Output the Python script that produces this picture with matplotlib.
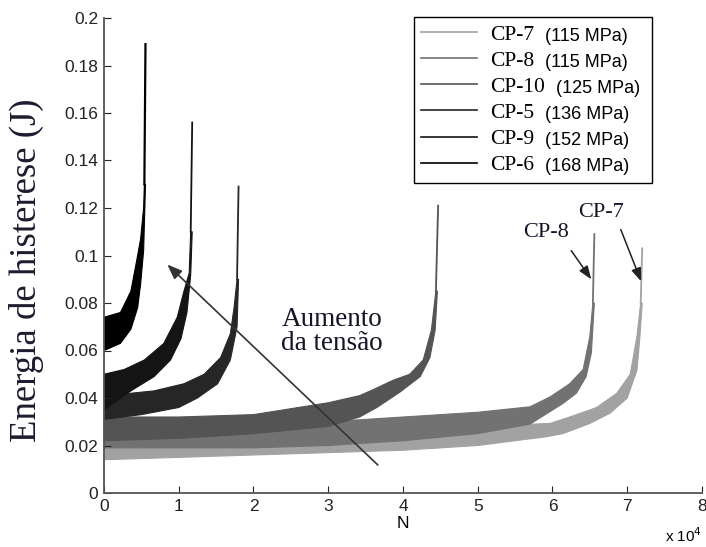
import matplotlib
matplotlib.use('Agg')
import matplotlib.pyplot as plt

# N in units of 10^4 cycles, energy in J
# each test is a noisy band: upper edge (up) and lower edge (lo), then the rupture spike
names = ['CP-7', 'CP-8', 'CP-10', 'CP-5', 'CP-9', 'CP-6']
stress = ['(115 MPa)', '(115 MPa)', '(125 MPa)', '(136 MPa)', '(152 MPa)', '(168 MPa)']
colors = ['#a2a2a2', '#727272', '#545454', '#262626', '#141414', '#000000']

up_n_cp7 = [0, 1, 2, 3, 4, 5, 5.97, 6.23, 6.59, 6.86, 7.04, 7.13, 7.18]
up_e_cp7 = [0.025, 0.025, 0.025, 0.026, 0.027, 0.028, 0.0293, 0.032, 0.036, 0.042, 0.050, 0.066, 0.080]
lo_n_cp7 = [0, 1, 2, 3, 4, 5, 5.92, 6.14, 6.50, 6.77, 7.00, 7.13, 7.17, 7.20]
lo_e_cp7 = [0.014, 0.015, 0.016, 0.017, 0.018, 0.020, 0.0237, 0.025, 0.0293, 0.0336, 0.040, 0.0517, 0.066, 0.080]

up_n_cp8 = [0, 1, 2, 3, 4, 5, 5.70, 5.97, 6.23, 6.41, 6.50, 6.54]
up_e_cp8 = [0.029, 0.029, 0.029, 0.030, 0.032, 0.034, 0.0363, 0.0405, 0.046, 0.052, 0.066, 0.080]
lo_n_cp8 = [0, 1, 2, 3, 4, 5, 5.70, 6.14, 6.32, 6.45, 6.52, 6.56]
lo_e_cp8 = [0.019, 0.019, 0.019, 0.020, 0.022, 0.025, 0.029, 0.0377, 0.042, 0.049, 0.059, 0.080]

up_n_cp10 = [0, 1, 2, 3, 3.42, 3.60, 3.87, 4.09, 4.27, 4.38, 4.44]
up_e_cp10 = [0.032, 0.032, 0.033, 0.038, 0.041, 0.0435, 0.0475, 0.050, 0.056, 0.0686, 0.085]
lo_n_cp10 = [0, 1, 2, 3, 3.42, 3.65, 3.96, 4.23, 4.36, 4.43, 4.46]
lo_e_cp10 = [0.022, 0.023, 0.025, 0.028, 0.032, 0.036, 0.0425, 0.049, 0.057, 0.0686, 0.085]

up_n_cp5 = [0, 0.36, 0.67, 1.07, 1.34, 1.56, 1.69, 1.74, 1.78]
up_e_cp5 = [0.042, 0.042, 0.043, 0.046, 0.050, 0.057, 0.067, 0.078, 0.090]
lo_n_cp5 = [0, 0.5, 1.0, 1.25, 1.52, 1.69, 1.78, 1.80]
lo_e_cp5 = [0.031, 0.033, 0.036, 0.040, 0.046, 0.056, 0.070, 0.090]

up_n_cp9 = [0, 0.27, 0.54, 0.80, 0.98, 1.07, 1.14, 1.16]
up_e_cp9 = [0.050, 0.052, 0.056, 0.063, 0.074, 0.085, 0.0926, 0.110]
lo_n_cp9 = [0, 0.36, 0.67, 0.89, 1.03, 1.11, 1.16, 1.18]
lo_e_cp9 = [0.035, 0.043, 0.049, 0.056, 0.065, 0.076, 0.092, 0.110]

up_n_cp6 = [0, 0.22, 0.36, 0.45, 0.49, 0.53, 0.54]
up_e_cp6 = [0.074, 0.076, 0.085, 0.100, 0.107, 0.120, 0.130]
lo_n_cp6 = [0, 0.22, 0.36, 0.45, 0.49, 0.53, 0.555]
lo_e_cp6 = [0.060, 0.063, 0.069, 0.078, 0.088, 0.102, 0.130]

# rupture spike: N at failure and peak energy
n_fail = [7.20, 6.56, 4.47, 1.80, 1.18, 0.555]
peak = [0.103, 0.109, 0.121, 0.129, 0.156, 0.189]

bands = [(up_n_cp7, up_e_cp7, lo_n_cp7, lo_e_cp7),
         (up_n_cp8, up_e_cp8, lo_n_cp8, lo_e_cp8),
         (up_n_cp10, up_e_cp10, lo_n_cp10, lo_e_cp10),
         (up_n_cp5, up_e_cp5, lo_n_cp5, lo_e_cp5),
         (up_n_cp9, up_e_cp9, lo_n_cp9, lo_e_cp9),
         (up_n_cp6, up_e_cp6, lo_n_cp6, lo_e_cp6)]

fig = plt.figure(figsize=(7.06, 5.47), dpi=100)
ax = fig.add_axes([104/706, 1-493/547, 598/706, 475/547])

handles = []
for k, (un, ue, ln, le) in enumerate(bands):
    ax.fill(un + ln[::-1], ue + le[::-1], facecolor=colors[k], edgecolor=colors[k], lw=0.8)
    ax.plot([un[-1], n_fail[k]], [ue[-1], peak[k]], color=colors[k], lw=1.6 if k == 5 else 1.3)
    h, = ax.plot([], [], color=colors[k], lw=1.2)
    handles.append(h)

ax.set_xlim(0, 8)
ax.set_ylim(0, 0.2)
ax.set_xticks(range(9))
ax.set_yticks([0, 0.02, 0.04, 0.06, 0.08, 0.1, 0.12, 0.14, 0.16, 0.18, 0.2])
ax.set_yticklabels(['0', '0.02', '0.04', '0.06', '0.08', '0.1', '0.12', '0.14', '0.16', '0.18', '0.2'])
ax.tick_params(direction='in', length=5, labelsize=12.5, pad=4, colors='#222222')
for lab in ax.get_xticklabels() + ax.get_yticklabels():
    lab.set_family('Liberation Sans')
ax.spines['top'].set_visible(False)
ax.spines['right'].set_visible(False)
for s in ['left', 'bottom']:
    ax.spines[s].set_color('#555555')
    ax.spines[s].set_linewidth(1.3)

ax.set_xlabel('N', family='Liberation Sans', fontsize=12.5, labelpad=2)
ax.set_ylabel('Energia de histerese (J)', family='Liberation Serif', fontsize=26.5, color='#1c1c30')
ax.yaxis.set_label_coords(-0.1, 0.47)
ax.text(1.0, -0.09, r'x 10$^4$', transform=ax.transAxes, ha='right', va='center',
        family='Liberation Sans', fontsize=11)

# arrows and notes
ax.annotate('', xy=(0.82, 0.097), xytext=(3.69, 0.011),
            arrowprops=dict(arrowstyle='-|>,head_length=0.9,head_width=0.35', color='#333333', lw=1.2))
ax.text(3.05, 0.068, 'Aumento\nda tensão', ha='center', va='center', family='Liberation Serif',
        fontsize=19.5, linespacing=0.95, color='#141428')
ax.annotate('', xy=(6.54, 0.089), xytext=(6.23, 0.103),
            arrowprops=dict(arrowstyle='-|>,head_length=0.8,head_width=0.3', color='#222222', lw=1.1))
ax.annotate('', xy=(7.2, 0.088), xytext=(6.9, 0.112),
            arrowprops=dict(arrowstyle='-|>,head_length=0.8,head_width=0.3', color='#222222', lw=1.1))
ax.text(5.91, 0.1095, 'CP-8', ha='center', va='center', family='Liberation Serif', fontsize=16, color='#141428')
ax.text(6.65, 0.118, 'CP-7', ha='center', va='center', family='Liberation Serif', fontsize=16, color='#141428')

leg = ax.legend(handles, names, loc='upper left', mode='expand',
                bbox_to_anchor=(0.518, 0.659, 0.398, 0.343), borderaxespad=0,
                prop={'family': 'Liberation Serif', 'size': 15.5}, handlelength=2.6,
                handletextpad=0.6, labelspacing=0.28, borderpad=0.35,
                fancybox=False, framealpha=1, edgecolor='black')
leg.get_frame().set_linewidth(1.0)

fig.canvas.draw()
for t, s in zip(leg.get_texts(), stress):
    bb = t.get_window_extent()
    fig.text((bb.x1 + 11)/706, (bb.y0 + bb.y1)/2/547 - 0.002, s, ha='left', va='center',
             family='Liberation Sans', fontsize=13, zorder=10)

fig.savefig('out.png', dpi=100)
